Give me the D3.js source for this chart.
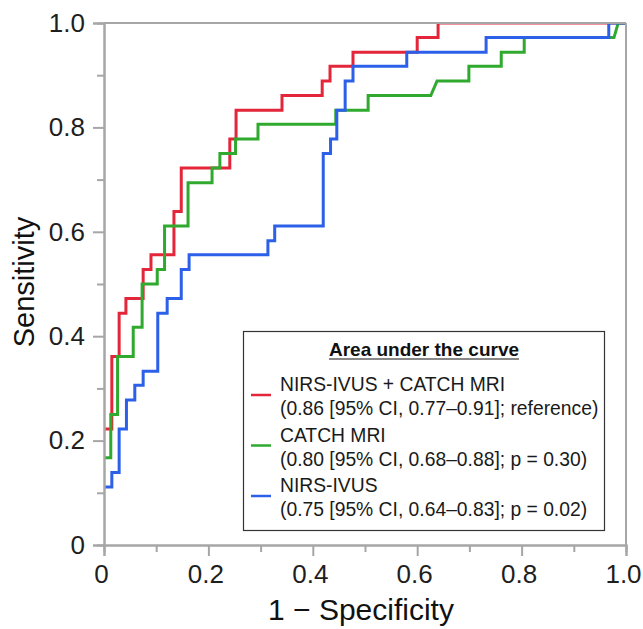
<!DOCTYPE html>
<html>
<head>
<meta charset="utf-8">
<script src="https://cdn.jsdelivr.net/npm/d3@7"></script>
<style>
  body { margin: 0; background: #fff; }
  svg { display: block; font-family: "Liberation Sans", Arial, sans-serif; }
</style>
</head>
<body>
<svg width="643" height="629"></svg>
<script>
// ROC points: [1 - specificity, sensitivity]
var rocCombined = [[0,0.222],[0.015,0.222],[0.015,0.361],[0.029,0.361],[0.029,0.444],[0.042,0.444],[0.042,0.472],
  [0.075,0.472],[0.075,0.528],[0.090,0.528],[0.090,0.556],[0.134,0.556],[0.134,0.639],[0.148,0.639],[0.148,0.722],
  [0.241,0.722],[0.241,0.778],[0.253,0.778],[0.253,0.833],[0.341,0.833],[0.341,0.861],[0.418,0.861],[0.418,0.889],
  [0.433,0.889],[0.433,0.917],[0.477,0.917],[0.477,0.944],[0.600,0.944],[0.600,0.972],[0.640,0.972],[0.640,1],[1,1]];

var rocCatch = [[0,0.167],[0.013,0.167],[0.013,0.25],[0.026,0.25],[0.026,0.361],[0.056,0.361],[0.056,0.417],
  [0.073,0.417],[0.073,0.5],[0.102,0.5],[0.102,0.528],[0.116,0.528],[0.116,0.611],[0.161,0.611],[0.161,0.694],
  [0.207,0.694],[0.207,0.722],[0.222,0.722],[0.222,0.75],[0.252,0.75],[0.252,0.778],[0.295,0.778],[0.295,0.806],
  [0.444,0.806],[0.444,0.833],[0.506,0.833],[0.506,0.861],[0.626,0.861],[0.638,0.889],[0.699,0.889],[0.699,0.917],
  [0.761,0.917],[0.761,0.944],[0.805,0.944],[0.805,0.972],[0.977,0.972],[0.985,1],[1,1]];

var rocNirs = [[0,0.111],[0.015,0.111],[0.015,0.139],[0.029,0.139],[0.029,0.222],[0.043,0.222],[0.043,0.278],
  [0.059,0.278],[0.059,0.306],[0.075,0.306],[0.075,0.333],[0.103,0.333],[0.103,0.444],[0.121,0.444],[0.121,0.472],
  [0.148,0.472],[0.148,0.528],[0.163,0.528],[0.163,0.556],[0.314,0.556],[0.314,0.583],[0.327,0.583],[0.327,0.611],
  [0.420,0.611],[0.420,0.75],[0.434,0.75],[0.434,0.778],[0.446,0.778],[0.446,0.833],[0.462,0.833],[0.462,0.889],
  [0.477,0.889],[0.477,0.917],[0.580,0.917],[0.580,0.944],[0.732,0.944],[0.732,0.972],[0.967,0.972],[0.967,1],[1,1]];

var seriesNames = ["NIRS-IVUS + CATCH MRI", "CATCH MRI", "NIRS-IVUS"];
var seriesStats = ["(0.86 [95% CI, 0.77\u20130.91]; reference)",
                   "(0.80 [95% CI, 0.68\u20130.88]; p = 0.30)",
                   "(0.75 [95% CI, 0.64\u20130.83]; p = 0.02)"];
var seriesColors = ["#e3263a", "#2faa2f", "#2d60e8"];
var majorTicks = [0, 0.2, 0.4, 0.6, 0.8, 1.0];
var minorTicks = [0.1, 0.3, 0.5, 0.7, 0.9];
var legendTitle = "Area under the curve";

var svg = d3.select("svg");
var plotL = 104, plotR = 626, plotT = 23, plotB = 545;   // window.top is read-only, so no "top"
var axisColor = "#a6a6a6";

var x = d3.scaleLinear().domain([0, 1]).range([plotL, plotR]);
var y = d3.scaleLinear().domain([0, 1]).range([plotB, plotT]);

function fmt(d) { return d === 0 ? "0" : d3.format(".1f")(d); }

// keep the curves inside the frame (the gray border hides the top edge)
svg.append("clipPath").attr("id", "plotclip").append("rect")
  .attr("x", plotL).attr("y", plotT + 1).attr("width", plotR - plotL).attr("height", plotB - plotT);

// ROC curves first, the frame sits on top of them
var line = d3.line().x(function (d) { return x(d[0]); }).y(function (d) { return y(d[1]); });
var curves = svg.append("g").attr("clip-path", "url(#plotclip)");
[rocCombined, rocCatch, rocNirs].forEach(function (pts, i) {
  curves.append("path").datum(pts)
    .attr("d", line)
    .attr("fill", "none")
    .attr("stroke", seriesColors[i])
    .attr("stroke-width", 3)
    .attr("stroke-linejoin", "miter");
});

// frame on top and right
svg.append("line").attr("x1", plotL).attr("x2", plotR).attr("y1", plotT).attr("y2", plotT)
  .attr("stroke", axisColor).attr("stroke-width", 2);
svg.append("line").attr("x1", plotR).attr("x2", plotR).attr("y1", plotT).attr("y2", plotB)
  .attr("stroke", axisColor).attr("stroke-width", 2);

// minor ticks
svg.append("g").attr("transform", "translate(" + plotL + ",0)")
  .call(d3.axisLeft(y).tickValues(minorTicks).tickSize(7).tickFormat(""));
svg.append("g").attr("transform", "translate(0," + plotB + ")")
  .call(d3.axisBottom(x).tickValues(minorTicks).tickSize(7).tickFormat(""));

// major ticks + labels
var yaxis = svg.append("g").attr("transform", "translate(" + plotL + ",0)")
  .call(d3.axisLeft(y).tickValues(majorTicks).tickSize(11).tickPadding(8).tickFormat(fmt));
var xaxis = svg.append("g").attr("transform", "translate(0," + plotB + ")")
  .call(d3.axisBottom(x).tickValues(majorTicks).tickSize(11).tickPadding(9).tickFormat(fmt));

svg.selectAll(".domain, .tick line").attr("stroke", axisColor).attr("stroke-width", 2);
svg.selectAll(".tick text").attr("fill", "#1e1e1e").attr("font-size", "26px")
  .attr("font-family", "Liberation Sans, Arial, sans-serif");
xaxis.selectAll(".tick text").attr("dx", -3);

// axis titles
svg.append("text").attr("x", 361).attr("y", 620).attr("text-anchor", "middle")
  .attr("font-size", "30px").attr("fill", "#111").text("1 \u2212 Specificity");
svg.append("text").attr("transform", "translate(34,282) rotate(-90)").attr("text-anchor", "middle")
  .attr("font-size", "29px").attr("fill", "#111").text("Sensitivity");

// legend
var lg = svg.append("g");
lg.append("rect").attr("x", 243.5).attr("y", 331.5).attr("width", 361).attr("height", 199)
  .attr("fill", "#fff").attr("stroke", "#333").attr("stroke-width", 1.2);
var title = lg.append("text").attr("x", 424).attr("y", 356).attr("text-anchor", "middle")
  .attr("font-size", "19px").attr("font-weight", "bold").attr("fill", "#111").text(legendTitle);
var tw = title.node().getComputedTextLength();
lg.append("line").attr("x1", 424 - tw / 2).attr("x2", 424 + tw / 2).attr("y1", 359).attr("y2", 359)
  .attr("stroke", "#111").attr("stroke-width", 1.2);

seriesNames.forEach(function (name, i) {
  var by = 391 + i * 50.5;
  lg.append("line").attr("x1", 251).attr("x2", 271).attr("y1", by + 4).attr("y2", by + 4)
    .attr("stroke", seriesColors[i]).attr("stroke-width", 2.5);
  lg.append("text").attr("x", 280).attr("y", by).attr("font-size", "19.3px").attr("fill", "#1a1a1a").text(name);
  lg.append("text").attr("x", 280).attr("y", by + 24).attr("font-size", "19.3px").attr("fill", "#1a1a1a").text(seriesStats[i]);
});
</script>
</body>
</html>
